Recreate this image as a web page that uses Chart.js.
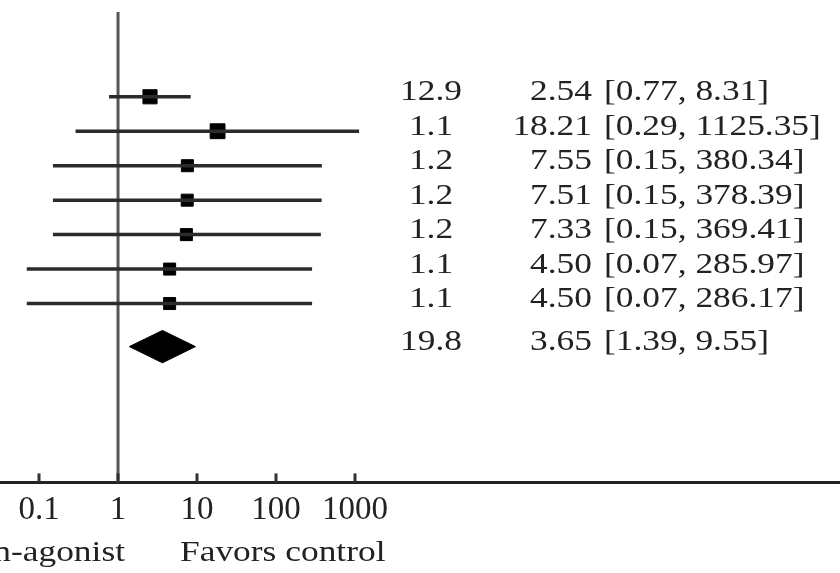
<!DOCTYPE html>
<html lang="en">
<head>
<meta charset="UTF-8" />
<title>Forest plot</title>
<script src="https://cdn.jsdelivr.net/npm/chart.js"></script>
<style>
  html, body { margin: 0; padding: 0; background: #fff; }
</style>
</head>
<body>
<canvas id="forest" width="840" height="573"></canvas>
<script>
// study rows
const weights = ["12.9", "1.1", "1.2", "1.2", "1.2", "1.1", "1.1"];
const oddsRatios = [2.54, 18.21, 7.55, 7.51, 7.33, 4.50, 4.50];
const lowerCI = [0.77, 0.29, 0.15, 0.15, 0.15, 0.07, 0.07];
const upperCI = [8.31, 1125.35, 380.34, 378.39, 369.41, 285.97, 286.17];

// pooled estimate
const pooledWeight = "19.8";
const pooledOR = 3.65;
const pooledLower = 1.39;
const pooledUpper = 9.55;

// axis
const tickValues = [0.1, 1, 10, 100, 1000];
const tickLabels = ["0.1", "1", "10", "100", "1000"];
const leftLabel = "Favors dopamin-agonist";
const rightLabel = "Favors control";

// layout of the rows on the y scale
const Y_MIN = -1.46, Y_MAX = 12.19;
const POOLED_ROW = 8.25;
const DIAMOND_HALF = 0.47;
const X_MIN = Math.pow(10, -1.494), X_MAX = Math.pow(10, 9.139);

const serif = "\"Liberation Serif\", \"Times New Roman\", serif";
const ink = "#222";

const ciDatasets = oddsRatios.map((or, i) => ({
  type: "line",
  data: [{ x: lowerCI[i], y: i + 1 }, { x: upperCI[i], y: i + 1 }],
  borderColor: "#2b2b2b",
  borderWidth: 3.5,
  pointRadius: 0,
  fill: false,
}));

const chartData = {
  datasets: [
    ...ciDatasets,
    {
      type: "line",
      data: [{ x: 1, y: Y_MIN }, { x: 1, y: Y_MAX }],
      borderColor: "#555",
      borderWidth: 3,
      pointRadius: 0,
      fill: false,
    },
    {
      type: "scatter",
      data: oddsRatios.map((or, i) => ({ x: or, y: i + 1 })),
      pointStyle: "rect",
      pointRadius: [10, 10.5, 8.5, 8.5, 8.5, 8.5, 8.5],
      backgroundColor: "#000",
      borderColor: "#000",
      borderWidth: 1,
    },
    {
      type: "line",
      data: [
        { x: pooledLower, y: POOLED_ROW },
        { x: pooledOR, y: POOLED_ROW - DIAMOND_HALF },
        { x: pooledUpper, y: POOLED_ROW },
        { x: pooledOR, y: POOLED_ROW + DIAMOND_HALF },
        { x: pooledLower, y: POOLED_ROW },
      ],
      borderColor: "#000",
      borderWidth: 1,
      backgroundColor: "#000",
      pointRadius: 0,
      fill: "shape",
      tension: 0,
    },
  ],
};

// text drawn a little wider than the font, like the source figure
function stretchText(ctx, text, x, y, align, size, sx) {
  ctx.save();
  ctx.translate(x, y);
  ctx.scale(sx, 1);
  ctx.font = size + "px " + serif;
  ctx.textAlign = align;
  ctx.textBaseline = "middle";
  ctx.fillStyle = ink;
  ctx.fillText(text, 0, 0);
  ctx.restore();
}

const annotations = {
  id: "annotations",
  afterDraw(chart) {
    const { ctx, scales } = chart;
    const xs = scales.x, ys = scales.y;
    const axisY = chart.chartArea.bottom;

    // tick marks pointing up into the plot
    ctx.save();
    ctx.strokeStyle = "#333";
    ctx.lineWidth = 3;
    tickValues.forEach((v) => {
      const px = Math.round(xs.getPixelForValue(v));
      ctx.beginPath();
      ctx.moveTo(px, axisY - 9);
      ctx.lineTo(px, axisY);
      ctx.stroke();
    });
    ctx.restore();

    const fmt = (v) => v.toFixed(2);
    const rows = weights.map((w, i) => ({
      w, or: oddsRatios[i], lo: lowerCI[i], hi: upperCI[i], y: ys.getPixelForValue(i + 1) - 4,
    }));
    rows.push({ w: pooledWeight, or: pooledOR, lo: pooledLower, hi: pooledUpper, y: ys.getPixelForValue(POOLED_ROW) - 4 });

    rows.forEach((r) => {
      stretchText(ctx, r.w, 431, r.y, "center", 29, 1.22);
      stretchText(ctx, fmt(r.or), 592, r.y, "right", 29, 1.22);
      stretchText(ctx, "[" + fmt(r.lo) + ", " + fmt(r.hi) + "]", 604, r.y, "left", 29, 1.22);
    });

    stretchText(ctx, leftLabel, 125, 553, "right", 30, 1.18);
    stretchText(ctx, rightLabel, 180, 553, "left", 30, 1.18);
  },
};

new Chart(document.getElementById("forest"), {
  type: "scatter",
  data: chartData,
  options: {
    responsive: false,
    animation: false,
    devicePixelRatio: 1,
    layout: { autoPadding: false, padding: { top: 12, left: 0, right: 0, bottom: 35 } },
    plugins: { legend: { display: false }, tooltip: { enabled: false } },
    scales: {
      x: {
        type: "logarithmic",
        min: X_MIN,
        max: X_MAX,
        afterBuildTicks: (scale) => {
          scale.ticks = tickValues.map((v) => ({ value: v }));
        },
        afterFit: (scale) => {
          scale.paddingLeft = 0;
          scale.paddingRight = 0;
        },
        ticks: {
          autoSkip: false,
          maxRotation: 0,
          color: ink,
          padding: 8,
          font: { family: serif, size: 33 },
          callback: (value, index) => tickLabels[index],
        },
        grid: { display: true, drawOnChartArea: false, drawTicks: false },
        border: { display: true, color: "#222", width: 3 },
      },
      y: {
        type: "linear",
        display: false,
        reverse: true,
        min: Y_MIN,
        max: Y_MAX,
      },
    },
  },
  plugins: [annotations],
});
</script>
</body>
</html>
